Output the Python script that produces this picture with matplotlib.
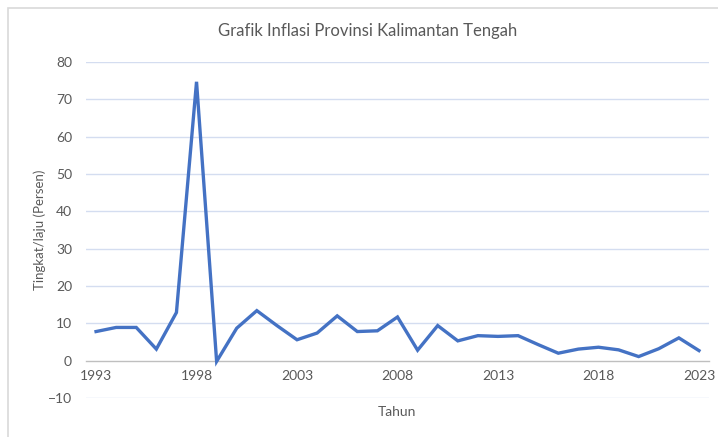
import matplotlib
matplotlib.use("Agg")
import matplotlib.pyplot as plt
from matplotlib.patches import Rectangle

plt.rcParams["font.family"] = ["Lato", "DejaVu Sans"]

# Inflasi tahunan Provinsi Kalimantan Tengah (persen)
years = list(range(1993, 2024))
inflasi = [7.8, 8.9, 8.9, 3.1, 12.9, 74.7, -0.2, 8.7, 13.4, 9.4,
           5.6, 7.4, 12.0, 7.8, 8.0, 11.7, 2.8, 9.4, 5.3, 6.7,
           6.5, 6.7, 4.3, 2.0, 3.1, 3.6, 2.9, 1.1, 3.2, 6.1, 2.7]
xtick_years = [1993, 1998, 2003, 2008, 2013, 2018, 2023]
yticks = list(range(-10, 81, 10))

text_color = "#595959"
line_color = "#4472C4"
grid_color = "#D4DDF0"

fig = plt.figure(figsize=(7.18, 4.37), dpi=100)
W, H = 718, 437
# chart border (light gray, like the Excel chart frame)
fig.patches.append(Rectangle((8 / W, -0.1), 1.1, 1 - 8 / H + 0.1, transform=fig.transFigure,
                             fill=False, edgecolor="#D9D9D9", linewidth=1.2))

ax = fig.add_axes([86 / W, 1 - 398 / H, (709 - 86) / W, (398 - 62) / H])
ax.plot(years, inflasi, color=line_color, linewidth=2.4, solid_joinstyle="miter", zorder=3)

ax.set_xlim(1992.5, 2023.5)
ax.set_ylim(-10, 80)
ax.set_yticks(yticks)
ax.set_xticks(xtick_years)

for y in yticks:
    if y != 0:
        ax.axhline(y, color=grid_color, linewidth=1.0, zorder=1)

for s in ["top", "right", "left"]:
    ax.spines[s].set_visible(False)
ax.spines["bottom"].set_position(("data", 0))
ax.spines["bottom"].set_color("#BFBFBF")
ax.spines["bottom"].set_linewidth(1.0)
ax.spines["bottom"].set_zorder(2)

ax.tick_params(axis="both", length=0, colors=text_color, labelsize=10)
ax.tick_params(axis="y", pad=10)
ax.tick_params(axis="x", pad=7)

fig.text(368 / W, 1 - 31 / H, "Grafik Inflasi Provinsi Kalimantan Tengah", ha="center", va="center",
         color=text_color, fontsize=12)
fig.text(40 / W, 1 - 230 / H, "Tingkat/laju (Persen)", rotation=90, ha="center", va="center",
         color=text_color, fontsize=9.5)
fig.text(397 / W, 1 - 412 / H, "Tahun", ha="center", va="center", color=text_color, fontsize=10)

fig.savefig("out.png", dpi=100)
